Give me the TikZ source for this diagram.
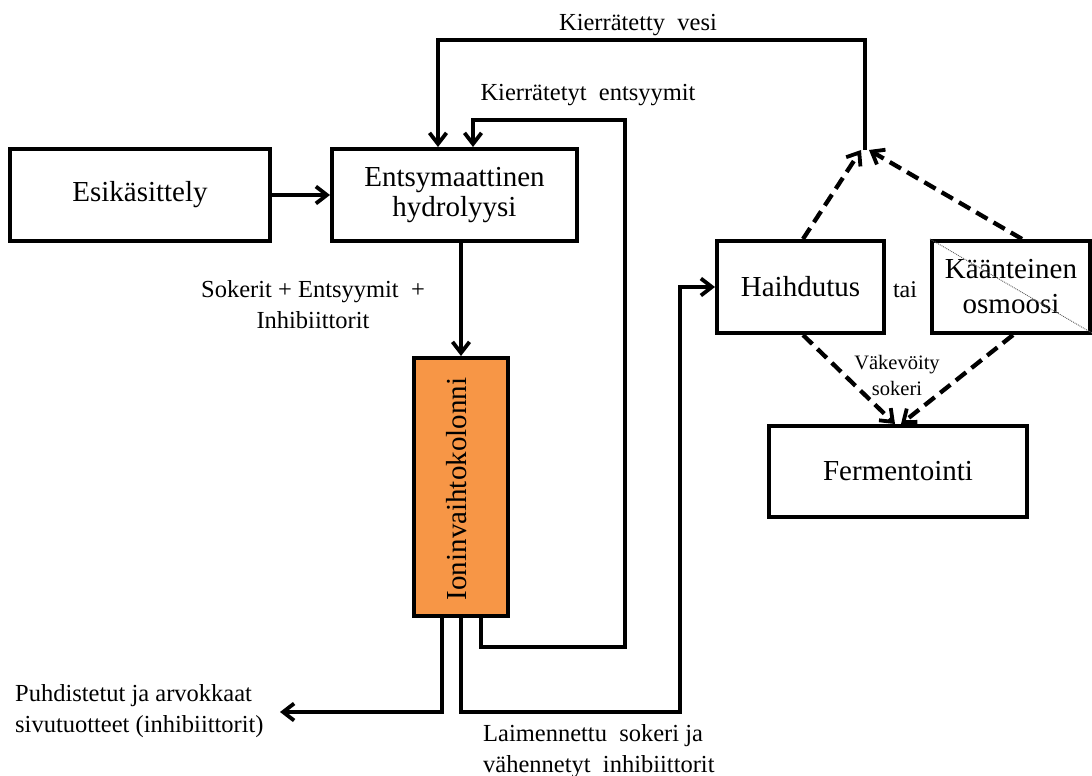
\documentclass[tikz,border=0pt]{standalone}
\usepackage{fontspec}
\setmainfont{Liberation Serif}
\usetikzlibrary{arrows.meta}
\definecolor{columnorange}{RGB}{247,150,70}
\begin{document}
\begin{tikzpicture}[x=1pt,y=-1pt,
  box/.style={draw, line width=4pt, inner sep=0pt, align=center,
    font=\fontsize{29}{30}\selectfont},
  lbl/.style={inner sep=0pt, align=center, font=\fontsize{24.5}{31}\selectfont},
  small/.style={inner sep=0pt, align=center, font=\fontsize{20.5}{26}\selectfont},
  tip/.style={-{Straight Barb[length=11pt,width=17pt,line width=3.8pt]}},
  flow/.style={line width=4.3pt, tip},
  dflow/.style={line width=4.3pt, dash pattern=on 13pt off 7pt, tip}]
\useasboundingbox (0,0) rectangle (1092,776);

% process boxes
\node[box, minimum width=260pt, minimum height=92pt] (esi) at (140,195) {Esikäsittely};
\node[box, minimum width=245pt, minimum height=92pt] (hyd) at (454.5,195) {Entsymaattinen\\hydrolyysi};
\node[box, fill=columnorange, minimum width=94pt, minimum height=258pt] (col) at (461,487) {};
\node[rotate=90, inner sep=0pt, font=\fontsize{29}{30}\selectfont] (colt) at (457,489) {Ioninvaihtokolonni};
\node[box, minimum width=167pt, minimum height=92pt] (hai) at (800.5,287) {Haihdutus};
\node[box, minimum width=158pt, minimum height=92pt,
  font=\fontsize{29}{35}\selectfont] (kaa) at (1011,287) {Käänteinen\\osmoosi};
\node[box, minimum width=258pt, minimum height=91pt] (fer) at (898,471.5) {Fermentointi};
\node[inner sep=0pt, font=\fontsize{24}{28}\selectfont] (tai) at (905,290) {tai};

% thin diagonal over the osmosis box
\draw[line width=0.9pt, black!65, densely dotted] (kaa.north west) -- (1092,333);

% junction where the concentrated streams release water
\coordinate (jn) at (865,150);

% main flow
\draw[flow] (esi.east) -- (hyd.west);
\draw[flow] (hyd.south -| col.north) -- (col.north);

% recycled enzymes
\draw[flow] ([xshift=20pt]col.south) -- ++(0,29) -| (625,120) -| ([xshift=18.5pt]hyd.north);

% diluted sugar to evaporation
\draw[flow] (col.south) |- (680,712) |- (hai.west);

% by-products
\draw[flow] ([xshift=-19pt]col.south) |- (280,712);

% recycled water
\draw[flow] (jn) -- (865,40) -| ([xshift=-16.5pt]hyd.north);

% dashed streams
\draw[dflow] ([xshift=2.5pt]hai.north) -- ([xshift=-4pt]jn);
\draw[dflow] ([xshift=11pt]kaa.north) -- ([xshift=4pt]jn);
\draw[dflow] ([xshift=2.5pt]hai.south) -- ([xshift=-3pt]fer.north);
\draw[dflow] ([xshift=2pt]kaa.south) -- ([xshift=3pt]fer.north);

% stream labels
\node[lbl] (lvesi) at (638,25) {Kierrätetty\ \ vesi};
\node[lbl] (lents) at (588,95) {Kierrätetyt\ \ entsyymit};
\node[lbl] (lsok) at (313,305) {Sokerit + Entsyymit\ \ +\\Inhibiittorit};
\node[small] (lvak) at (897,375) {Väkevöity\\sokeri};
\node[lbl, align=left, anchor=west] (lsiv) at (15,711) {Puhdistetut ja arvokkaat\\sivutuotteet (inhibiittorit)};
\node[lbl, align=left, anchor=west] (llai) at (483,751) {Laimennettu\ \ sokeri ja\\vähennetyt\ \ inhibiittorit};
\end{tikzpicture}
\end{document}
